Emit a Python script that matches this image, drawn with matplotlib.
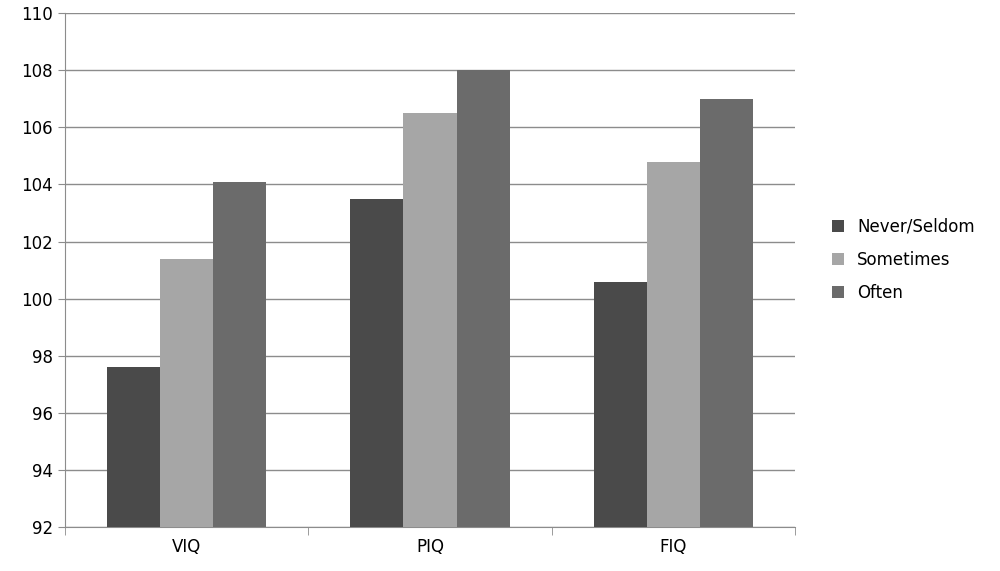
import matplotlib
matplotlib.use("Agg")
import matplotlib.pyplot as plt
import numpy as np

categories = ["VIQ", "PIQ", "FIQ"]
series = ["Never/Seldom", "Sometimes", "Often"]
never = [97.6, 103.5, 100.6]
sometimes = [101.4, 106.5, 104.8]
often = [104.1, 108.0, 107.0]
colors = ["#4a4a4a", "#a6a6a6", "#6b6b6b"]

fig = plt.figure(figsize=(10, 5.71), dpi=100)
ax = fig.add_axes([0.065, 0.077, 0.73, 0.9])
x = np.arange(len(categories))
w = 0.218
for i, (vals, name) in enumerate(zip([never, sometimes, often], series)):
    ax.bar(x + (i - 1) * w, [v - 92 for v in vals], w, bottom=92, color=colors[i], label=name, zorder=3)
ax.set_ylim(92, 110)
ax.set_xlim(-0.5, 2.5)
ax.set_yticks(range(92, 111, 2))
ax.yaxis.grid(True, color="#8c8c8c", linewidth=1)
ax.set_xticks(x)
ax.set_xticklabels(categories)
ax.set_xticks([-0.5, 0.5, 1.5, 2.5], minor=True)
ax.tick_params(axis="x", which="major", length=0, pad=8)
ax.tick_params(axis="x", which="minor", length=6, color="#8c8c8c", direction="out")
ax.tick_params(axis="y", length=5, color="#8c8c8c", labelsize=12)
ax.tick_params(axis="x", labelsize=12)
for s in ["top", "right"]:
    ax.spines[s].set_visible(False)
for s in ["left", "bottom"]:
    ax.spines[s].set_color("#8c8c8c")
ax.legend(loc="center left", bbox_to_anchor=(1.03, 0.52), frameon=False, fontsize=12,
          handlelength=0.7, handleheight=0.7, labelspacing=0.9)
fig.savefig("out.png")
